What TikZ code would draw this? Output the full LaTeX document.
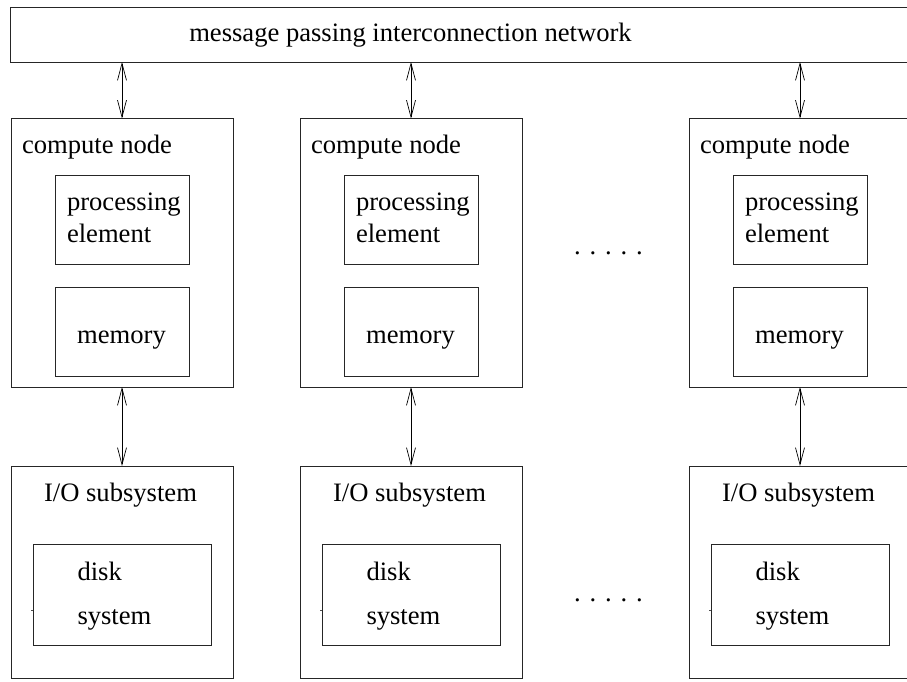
\documentclass[tikz,border=0pt]{standalone}
\usepackage{fontspec}
\setmainfont{Liberation Serif}
\usetikzlibrary{arrows.meta}
\begin{document}
\begin{tikzpicture}[x=1pt,y=-1pt,
  every node/.style={font=\fontsize{26.6}{32}\selectfont},
  box/.style={draw=black!85, line width=0.9pt, inner sep=0pt, outer sep=0pt},
  label/.style={inner sep=0pt, outer sep=0pt},
  link/.style={draw=black, line width=0.7pt,
    {Straight Barb[length=17pt,width=9pt]}-{Straight Barb[length=17pt,width=9pt]}}]
\useasboundingbox (0,0) rectangle (907,681);
\clip (0,0) rectangle (907,681);

% interconnection network across the top
\node[box, minimum width=910pt, minimum height=55pt] (net) at (465.7,34.5) {};
\node[label, anchor=base] (nettext) at (410.5,41) {message passing interconnection network};

% one column per compute node / I/O subsystem pair
\foreach \c/\n in {122/1, 411/2, 800/3} {
  \node[box, minimum width=222pt, minimum height=268.5pt] (cn\n) at (\c,252.75) {};
  \node[label, anchor=base west] (cnt\n) at (\c-100,153) {compute node};
  \node[box, minimum width=134pt, minimum height=89pt] (pe\n) at (\c,219.5) {};
  \node[label, anchor=base west] (pet\n) at (\c-55,210) {processing};
  \node[label, anchor=base west] (pee\n) at (\c-55,242) {element};
  \node[box, minimum width=134pt, minimum height=89.5pt] (mem\n) at (\c,331.75) {};
  \node[label, anchor=base] (memt\n) at (\c-0.5,343) {memory};

  \node[box, minimum width=222pt, minimum height=212pt] (io\n) at (\c,572) {};
  \node[label, anchor=base] (iot\n) at (\c-1.5,501) {I/O subsystem};
  \node[box, minimum width=178pt, minimum height=101pt] (disk\n) at (\c,594.5) {};
  \node[label, anchor=base west] (dt\n) at (\c-44.5,580) {disk};
  \node[label, anchor=base west] (ds\n) at (\c-44.5,624) {system};
  \draw[black!70, line width=0.6pt] ([yshift=-15.5pt]disk\n.west) -- ++(-2,0);

  \draw[link] (net.south -| cn\n.north) -- (cn\n.north);
  \draw[link] (cn\n.south) -- (io\n.north);
}

% elided columns
\node[label, anchor=base] (dotsA) at (608.5,254) {. . . . .};
\node[label, anchor=base] (dotsB) at (608.5,601) {. . . . .};
\end{tikzpicture}
\end{document}
